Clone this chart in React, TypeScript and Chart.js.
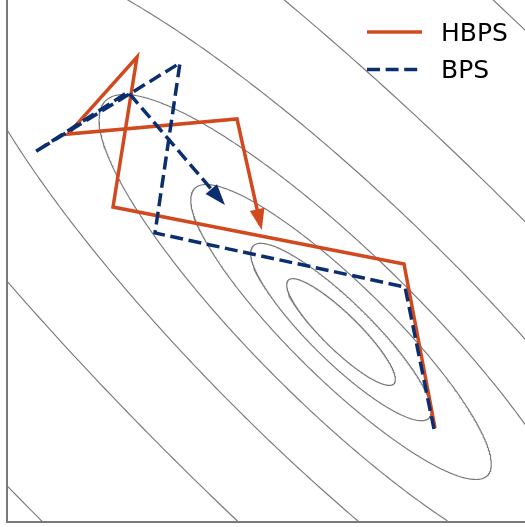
import React, { useEffect, useRef } from "react";
import { Chart, registerables } from "chart.js";

Chart.register(...registerables);

// ---- axis ranges (data units) ----
const X_RANGE = [0, 5.18];
const Y_RANGE = [0, 5.22];

// ---- optimisation paths ----
const seriesNames = ["HBPS", "BPS"];
const seriesColors = ["#d2491f", "#0a2e6e"];
const hbpsX = [4.28, 3.97, 1.06, 1.3, 0.61, 2.3, 2.536];
const hbpsY = [0.94, 2.58, 3.15, 4.65, 3.88, 4.03, 2.969];
const bpsX = [4.27, 3.98, 1.48, 1.73, 0.28, 1.21, 2.147];
const bpsY = [0.93, 2.35, 2.89, 4.59, 3.7, 4.3, 3.208];

// ---- contour (level-set ellipses of a quadratic) ----
const contourCenter = [3.34, 1.9];
const contourAngleDeg = -44.4;
const contourSemiMajor = [0.74, 1.23, 2.05, 3.3, 5.3, 8.7, 14.3];
const contourSemiMinor = [0.18, 0.3, 0.48, 0.78, 1.28, 2.08, 3.45];

const CONTOUR_SAMPLES = 720;

function ellipsePoints(a: number, b: number) {
  const phi = (contourAngleDeg * Math.PI) / 180;
  const [cx, cy] = contourCenter;
  const pts: { x: number; y: number }[] = [];
  for (let i = 0; i <= CONTOUR_SAMPLES; i++) {
    const t = (i / CONTOUR_SAMPLES) * Math.PI * 2;
    const ex = a * Math.cos(t);
    const ey = b * Math.sin(t);
    pts.push({
      x: cx + ex * Math.cos(phi) - ey * Math.sin(phi),
      y: cy + ex * Math.sin(phi) + ey * Math.cos(phi),
    });
  }
  return pts;
}

const toPoints = (xs: number[], ys: number[]) => xs.map((x, i) => ({ x, y: ys[i] }));

const DASH = [13, 5.6];
const LINE_W = 3.5;

const arrowPlugin = {
  id: "arrowHeads",
  afterDatasetsDraw(chart: any) {
    const ctx = chart.ctx;
    const xs = chart.scales.x;
    const ys = chart.scales.y;
    const area = chart.chartArea;
    ctx.save();
    ctx.beginPath();
    ctx.rect(area.left, area.top, area.right - area.left, area.bottom - area.top);
    ctx.clip();
    chart.data.datasets.forEach((ds: any) => {
      if (!ds.isPath) return;
      const d = ds.data;
      const p1 = d[d.length - 2];
      const p2 = d[d.length - 1];
      const x1 = xs.getPixelForValue(p1.x);
      const y1 = ys.getPixelForValue(p1.y);
      const x2 = xs.getPixelForValue(p2.x);
      const y2 = ys.getPixelForValue(p2.y);
      const ang = Math.atan2(y2 - y1, x2 - x1);
      const over = 5;
      const len = 21;
      const hw = 7.5;
      const tx = x2 + over * Math.cos(ang);
      const ty = y2 + over * Math.sin(ang);
      const bx = tx - len * Math.cos(ang);
      const by = ty - len * Math.sin(ang);
      ctx.beginPath();
      ctx.moveTo(tx, ty);
      ctx.lineTo(bx + hw * Math.sin(ang), by - hw * Math.cos(ang));
      ctx.lineTo(bx - hw * Math.sin(ang), by + hw * Math.cos(ang));
      ctx.closePath();
      ctx.fillStyle = ds.borderColor;
      ctx.fill();
    });
    ctx.restore();
  },
};

const legendPlugin = {
  id: "customLegend",
  afterDraw(chart: any) {
    const ctx = chart.ctx;
    const items = chart.data.datasets.filter((d: any) => d.isPath);
    ctx.save();
    items.forEach((ds: any, i: number) => {
      const cy = 32 + i * 37.4;
      ctx.beginPath();
      ctx.lineWidth = LINE_W;
      ctx.strokeStyle = ds.borderColor;
      ctx.setLineDash(ds.borderDash || []);
      ctx.lineCap = "butt";
      ctx.moveTo(367, cy);
      ctx.lineTo(422, cy);
      ctx.stroke();
      ctx.setLineDash([]);
      ctx.fillStyle = "#000000";
      ctx.font = '25px "DejaVu Sans"';
      ctx.textBaseline = "alphabetic";
      ctx.textAlign = "left";
      ctx.fillText(ds.label, 441, cy + 9);
    });
    ctx.restore();
  },
};

export default function App() {
  const ref = useRef<HTMLCanvasElement | null>(null);

  useEffect(() => {
    if (!ref.current) return;
    const contourSets = contourSemiMajor.map((a, i) => ({
      label: "",
      isPath: false,
      data: ellipsePoints(a, contourSemiMinor[i]),
      borderColor: "#7a7a7a",
      borderWidth: 1.15,
      pointRadius: 0,
      showLine: true,
      fill: false,
      tension: 0,
      order: 5,
    }));
    const pathSets = [
      {
        label: seriesNames[0],
        isPath: true,
        data: toPoints(hbpsX, hbpsY),
        borderColor: seriesColors[0],
        borderWidth: LINE_W,
        borderDash: [] as number[],
        borderJoinStyle: "miter",
        borderCapStyle: "butt",
        pointRadius: 0,
        showLine: true,
        fill: false,
        tension: 0,
        order: 2,
      },
      {
        label: seriesNames[1],
        isPath: true,
        data: toPoints(bpsX, bpsY),
        borderColor: seriesColors[1],
        borderWidth: LINE_W,
        borderDash: DASH,
        borderJoinStyle: "miter",
        borderCapStyle: "butt",
        pointRadius: 0,
        showLine: true,
        fill: false,
        tension: 0,
        order: 1,
      },
    ];
    const chart = new Chart(ref.current, {
      type: "scatter",
      data: { datasets: [...pathSets, ...contourSets] as any },
      options: {
        animation: false,
        responsive: false,
        devicePixelRatio: 1,
        layout: { padding: { left: 7, right: 0, top: 0, bottom: 5 } },
        plugins: { legend: { display: false }, tooltip: { enabled: false } },
        events: [],
        scales: {
          x: {
            type: "linear",
            min: X_RANGE[0],
            max: X_RANGE[1],
            grid: { display: false, drawTicks: false },
            ticks: { display: false },
            border: { display: true, color: "#7a7a7a", width: 2 },
          },
          y: {
            type: "linear",
            min: Y_RANGE[0],
            max: Y_RANGE[1],
            grid: { display: false, drawTicks: false },
            ticks: { display: false },
            border: { display: true, color: "#7a7a7a", width: 2 },
          },
        },
      } as any,
      plugins: [arrowPlugin, legendPlugin],
    });
    return () => chart.destroy();
  }, []);

  return (
    <div style={{ position: "absolute", left: 0, top: 0, width: 525, height: 527, background: "#fff" }}>
      <canvas ref={ref} width={525} height={527} />
    </div>
  );
}
